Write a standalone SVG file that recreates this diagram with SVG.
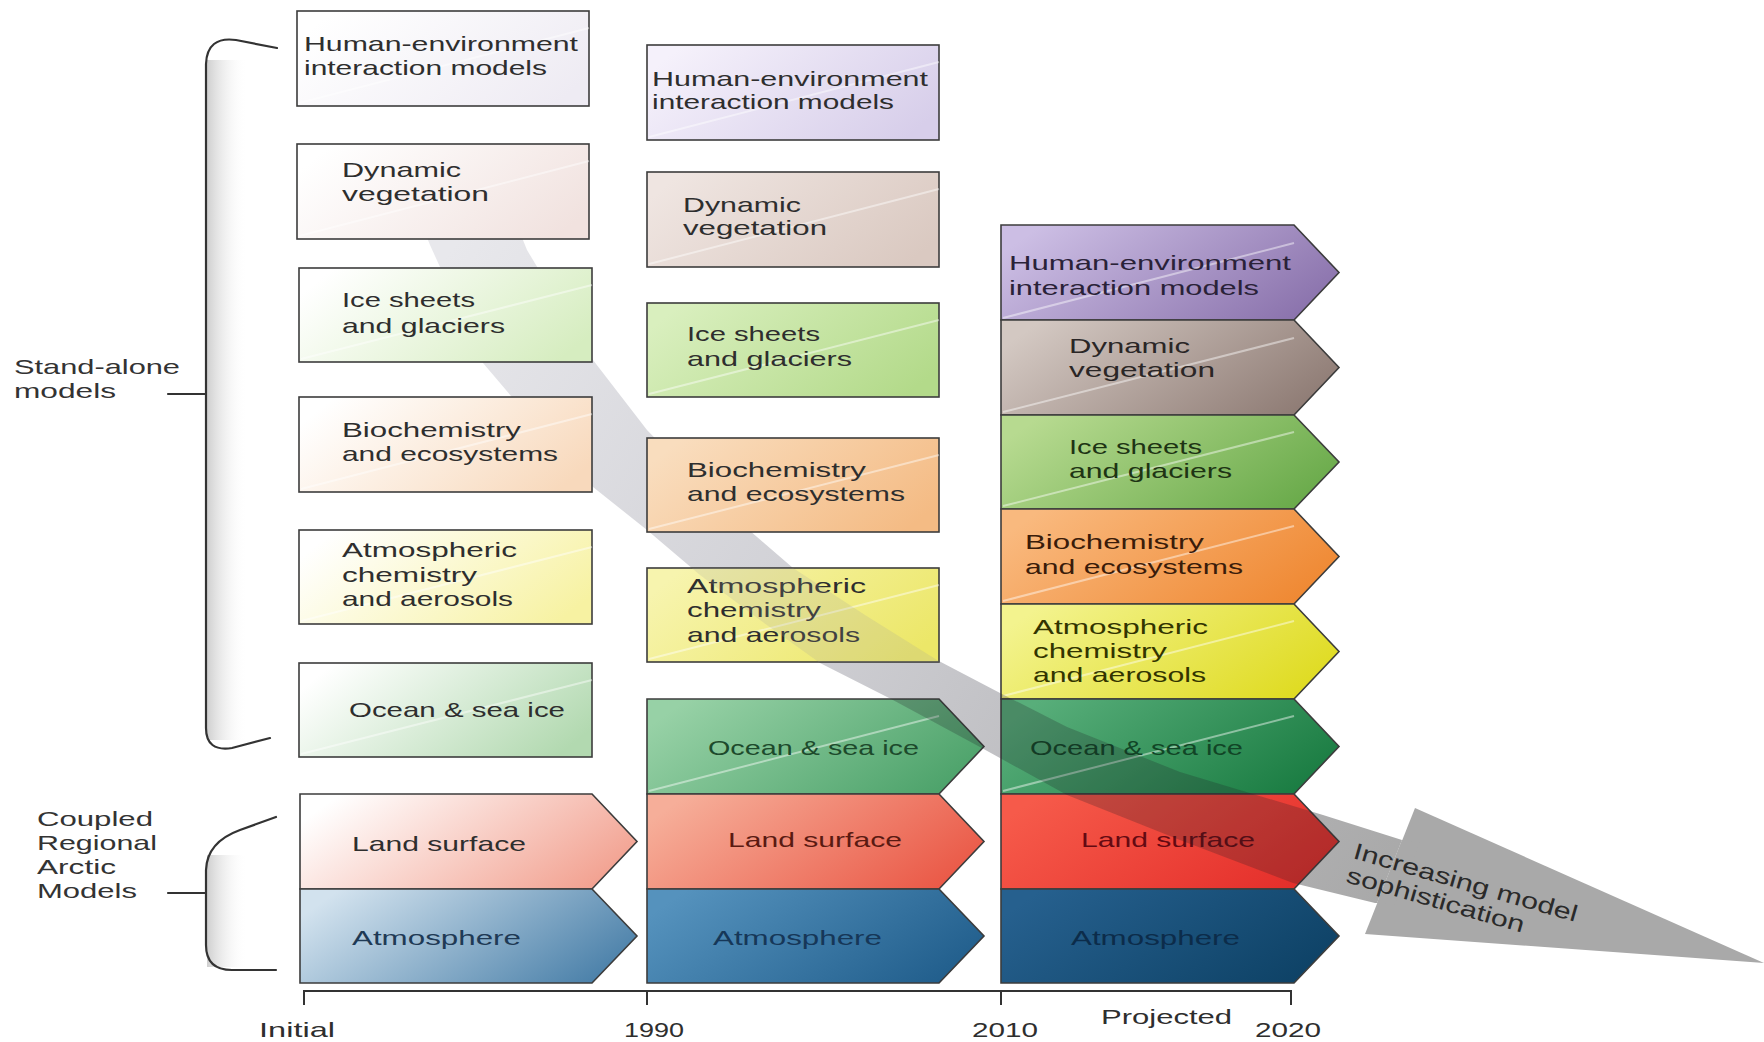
<svg xmlns="http://www.w3.org/2000/svg" width="1764" height="1042" viewBox="0 0 1764 1042">
<style>
text{font-family:"Liberation Sans","Arial",sans-serif;font-size:21px;fill:#2e2e2e}
.bx{stroke:#3c3c3c;stroke-width:1.6}
.gl{stroke:#fff;stroke-width:2;opacity:.45;fill:none}
.br{fill:none;stroke:#333;stroke-width:2.2;stroke-linecap:round}
.ax{fill:none;stroke:#333;stroke-width:2}
.lbl{font-size:21px;fill:#333}
</style>
<defs>
<linearGradient id="band" gradientUnits="userSpaceOnUse" x1="450" y1="250" x2="1400" y2="870"><stop offset="0" stop-color="#e8e8ec"/><stop offset=".45" stop-color="#cfcfd4"/><stop offset=".85" stop-color="#b2b2b4"/><stop offset="1" stop-color="#a9a9a9"/></linearGradient>
<linearGradient id="shade" x1="0" y1="0" x2="1" y2="0"><stop offset="0" stop-color="#cfcfcf"/><stop offset="1" stop-color="#fff" stop-opacity="0"/></linearGradient>
<linearGradient id="a1" x1="0" y1=".3" x2="1" y2=".7"><stop offset="0" stop-color="#fff"/><stop offset="1" stop-color="#eeebf3"/></linearGradient>
<linearGradient id="a2" x1="0" y1=".3" x2="1" y2=".7"><stop offset="0" stop-color="#fff"/><stop offset="1" stop-color="#f1e2df"/></linearGradient>
<linearGradient id="a3" x1="0" y1=".3" x2="1" y2=".7"><stop offset="0" stop-color="#fff"/><stop offset="1" stop-color="#d6edc0"/></linearGradient>
<linearGradient id="a4" x1="0" y1=".3" x2="1" y2=".7"><stop offset="0" stop-color="#fff"/><stop offset="1" stop-color="#f8d9bc"/></linearGradient>
<linearGradient id="a5" x1="0" y1=".3" x2="1" y2=".7"><stop offset="0" stop-color="#fff"/><stop offset="1" stop-color="#f7f2a2"/></linearGradient>
<linearGradient id="a6" x1="0" y1=".3" x2="1" y2=".7"><stop offset="0" stop-color="#fff"/><stop offset="1" stop-color="#b2d9b0"/></linearGradient>
<linearGradient id="a7" x1="0" y1=".3" x2="1" y2=".7"><stop offset="0" stop-color="#fff"/><stop offset="1" stop-color="#f2a08f"/></linearGradient>
<linearGradient id="a8" x1="0" y1=".3" x2="1" y2=".7"><stop offset="0" stop-color="#d2e2ee"/><stop offset="1" stop-color="#4a80a9"/></linearGradient>
<linearGradient id="b1" x1="0" y1=".3" x2="1" y2=".7"><stop offset="0" stop-color="#f5f1fb"/><stop offset="1" stop-color="#d7ceea"/></linearGradient>
<linearGradient id="b2" x1="0" y1=".3" x2="1" y2=".7"><stop offset="0" stop-color="#efe5e1"/><stop offset="1" stop-color="#dac9c1"/></linearGradient>
<linearGradient id="b3" x1="0" y1=".3" x2="1" y2=".7"><stop offset="0" stop-color="#d9efbe"/><stop offset="1" stop-color="#b3da8a"/></linearGradient>
<linearGradient id="b4" x1="0" y1=".3" x2="1" y2=".7"><stop offset="0" stop-color="#f9ddbe"/><stop offset="1" stop-color="#f4bb84"/></linearGradient>
<linearGradient id="b5" x1="0" y1=".3" x2="1" y2=".7"><stop offset="0" stop-color="#f7f4ae"/><stop offset="1" stop-color="#ece768"/></linearGradient>
<linearGradient id="b6" x1="0" y1=".3" x2="1" y2=".7"><stop offset="0" stop-color="#97d1a6"/><stop offset="1" stop-color="#4ca26a"/></linearGradient>
<linearGradient id="b7" x1="0" y1=".3" x2="1" y2=".7"><stop offset="0" stop-color="#f6ae99"/><stop offset="1" stop-color="#ea5846"/></linearGradient>
<linearGradient id="b8" x1="0" y1=".3" x2="1" y2=".7"><stop offset="0" stop-color="#5592bd"/><stop offset="1" stop-color="#215e8c"/></linearGradient>
<linearGradient id="c1" x1="0" y1=".3" x2="1" y2=".7"><stop offset="0" stop-color="#ccbee4"/><stop offset="1" stop-color="#8a72ac"/></linearGradient>
<linearGradient id="c2" x1="0" y1=".3" x2="1" y2=".7"><stop offset="0" stop-color="#d3c8c2"/><stop offset="1" stop-color="#8e7b74"/></linearGradient>
<linearGradient id="c3" x1="0" y1=".3" x2="1" y2=".7"><stop offset="0" stop-color="#b7da90"/><stop offset="1" stop-color="#69aa4a"/></linearGradient>
<linearGradient id="c4" x1="0" y1=".3" x2="1" y2=".7"><stop offset="0" stop-color="#f9b97e"/><stop offset="1" stop-color="#ef8832"/></linearGradient>
<linearGradient id="c5" x1="0" y1=".3" x2="1" y2=".7"><stop offset="0" stop-color="#f3f38e"/><stop offset="1" stop-color="#dfdb20"/></linearGradient>
<linearGradient id="c6" x1="0" y1=".3" x2="1" y2=".7"><stop offset="0" stop-color="#58ae7a"/><stop offset="1" stop-color="#1a7c42"/></linearGradient>
<linearGradient id="c7" x1="0" y1=".3" x2="1" y2=".7"><stop offset="0" stop-color="#f65a4a"/><stop offset="1" stop-color="#e42e2a"/></linearGradient>
<linearGradient id="c8" x1="0" y1=".3" x2="1" y2=".7"><stop offset="0" stop-color="#26608e"/><stop offset="1" stop-color="#0e4266"/></linearGradient>
<path id="bandShape" d="M505,195 L527,250 L560,305 L593,360 L647,430 L720,505 L793,568 L865,615 L937,660 L1000,693 L1067,727 L1180,772 L1323,815 L1402,840 L1377,903 L1375,903 L1293,883 L1180,840 L1067,795 L980,747 L893,700 L820,663 L760,620 L700,575 L647,530 L593,487 L540,430 L483,363 L455,300 L430,245 L410,195 Z"/>
<clipPath id="overClip">
<polygon points="647,699 939,699 984,746.5 939,794 647,794"/>
<polygon points="1001,604 1294,604 1339,651.5 1294,699 1001,699"/>
<polygon points="1001,699 1294,699 1339,746.5 1294,794 1001,794"/>
<polygon points="1001,794 1294,794 1339,841.5 1294,889 1001,889"/>
<polygon points="1001,889 1294,889 1339,936 1294,983 1001,983"/>
</clipPath>
<clipPath id="faintClip"><rect x="647" y="568" width="292" height="94"/></clipPath>
</defs>
<rect width="1764" height="1042" fill="#fff"/>

<g id="brackets">
<rect x="207" y="60" width="40" height="680" fill="url(#shade)"/>
<rect x="207" y="855" width="40" height="112" fill="url(#shade)"/>
<path class="br" d="M277,48 L236,40 Q207,36 206,64 L206,728 Q206,752 232,748 L270,738"/>
<path class="br" d="M168,394 L206,394"/>
<path class="br" d="M276,817 L240,830 Q207,842 206,870 L206,945 Q206,970 232,970 L276,970"/>
<path class="br" d="M168,893 L206,893"/>
<text class="lbl" x="14" y="374" textLength="166" lengthAdjust="spacingAndGlyphs">Stand-alone</text>
<text class="lbl" x="14" y="398" textLength="102" lengthAdjust="spacingAndGlyphs">models</text>
<text class="lbl" x="37" y="826" textLength="116" lengthAdjust="spacingAndGlyphs">Coupled</text>
<text class="lbl" x="37" y="850" textLength="120" lengthAdjust="spacingAndGlyphs">Regional</text>
<text class="lbl" x="37" y="874" textLength="79" lengthAdjust="spacingAndGlyphs">Arctic</text>
<text class="lbl" x="37" y="898" textLength="100" lengthAdjust="spacingAndGlyphs">Models</text>
</g>

<g id="connectors">
<use href="#bandShape" fill="url(#band)"/>
</g>

<g id="initial-human"><rect class="bx" x="297" y="11" width="292" height="95" fill="url(#a1)"/><line class="gl" x1="299" y1="103" x2="589" y2="28"/><text x="304" y="51" textLength="274" lengthAdjust="spacingAndGlyphs">Human-environment</text><text x="304" y="75" textLength="243" lengthAdjust="spacingAndGlyphs">interaction models</text></g>
<g id="initial-vegetation"><rect class="bx" x="297" y="144" width="292" height="95" fill="url(#a2)"/><line class="gl" x1="299" y1="236" x2="589" y2="161"/><text x="342" y="177" textLength="119" lengthAdjust="spacingAndGlyphs">Dynamic</text><text x="342" y="201" textLength="147" lengthAdjust="spacingAndGlyphs">vegetation</text></g>
<g id="initial-ice"><rect class="bx" x="299" y="268" width="293" height="94" fill="url(#a3)"/><line class="gl" x1="301" y1="359" x2="592" y2="285"/><text x="342" y="307" textLength="133" lengthAdjust="spacingAndGlyphs">Ice sheets</text><text x="342" y="333" textLength="163" lengthAdjust="spacingAndGlyphs">and glaciers</text></g>
<g id="initial-biochem"><rect class="bx" x="299" y="397" width="293" height="95" fill="url(#a4)"/><line class="gl" x1="301" y1="489" x2="592" y2="414"/><text x="342" y="437" textLength="179" lengthAdjust="spacingAndGlyphs">Biochemistry</text><text x="342" y="461" textLength="216" lengthAdjust="spacingAndGlyphs">and ecosystems</text></g>
<g id="initial-atmchem"><rect class="bx" x="299" y="530" width="293" height="94" fill="url(#a5)"/><line class="gl" x1="301" y1="621" x2="592" y2="547"/><text x="342" y="557" textLength="175" lengthAdjust="spacingAndGlyphs">Atmospheric</text><text x="342" y="582" textLength="135" lengthAdjust="spacingAndGlyphs">chemistry</text><text x="342" y="606" textLength="171" lengthAdjust="spacingAndGlyphs">and aerosols</text></g>
<g id="initial-ocean"><rect class="bx" x="299" y="663" width="293" height="94" fill="url(#a6)"/><line class="gl" x1="301" y1="754" x2="592" y2="680"/><text x="349" y="717" textLength="216" lengthAdjust="spacingAndGlyphs">Ocean &amp; sea ice</text></g>
<g id="initial-land"><polygon class="bx" points="300,794 592,794 637,841.5 592,889 300,889" fill="url(#a7)"/><text x="352" y="851" textLength="174" lengthAdjust="spacingAndGlyphs">Land surface</text></g>
<g id="initial-atmosphere"><polygon class="bx" points="300,889 592,889 637,936 592,983 300,983" fill="url(#a8)"/><text x="352" y="945" textLength="169" lengthAdjust="spacingAndGlyphs" style="fill:#1f3a55">Atmosphere</text></g>

<g id="y1990-human"><rect class="bx" x="647" y="45" width="292" height="95" fill="url(#b1)"/><line class="gl" x1="649" y1="137" x2="939" y2="62"/><text x="652" y="86" textLength="276" lengthAdjust="spacingAndGlyphs">Human-environment</text><text x="652" y="109" textLength="242" lengthAdjust="spacingAndGlyphs">interaction models</text></g>
<g id="y1990-vegetation"><rect class="bx" x="647" y="172" width="292" height="95" fill="url(#b2)"/><line class="gl" x1="649" y1="264" x2="939" y2="189"/><text x="683" y="212" textLength="118" lengthAdjust="spacingAndGlyphs">Dynamic</text><text x="683" y="235" textLength="144" lengthAdjust="spacingAndGlyphs">vegetation</text></g>
<g id="y1990-ice"><rect class="bx" x="647" y="303" width="292" height="94" fill="url(#b3)"/><line class="gl" x1="649" y1="394" x2="939" y2="320"/><text x="687" y="341" textLength="133" lengthAdjust="spacingAndGlyphs">Ice sheets</text><text x="687" y="366" textLength="165" lengthAdjust="spacingAndGlyphs">and glaciers</text></g>
<g id="y1990-biochem"><rect class="bx" x="647" y="438" width="292" height="94" fill="url(#b4)"/><line class="gl" x1="649" y1="529" x2="939" y2="455"/><text x="687" y="477" textLength="179" lengthAdjust="spacingAndGlyphs">Biochemistry</text><text x="687" y="501" textLength="218" lengthAdjust="spacingAndGlyphs">and ecosystems</text></g>
<g id="y1990-atmchem"><rect class="bx" x="647" y="568" width="292" height="94" fill="url(#b5)"/><line class="gl" x1="649" y1="659" x2="939" y2="585"/><text x="687" y="593" textLength="179" lengthAdjust="spacingAndGlyphs">Atmospheric</text><text x="687" y="617" textLength="134" lengthAdjust="spacingAndGlyphs">chemistry</text><text x="687" y="642" textLength="173" lengthAdjust="spacingAndGlyphs">and aerosols</text></g>
<g id="y1990-ocean"><polygon class="bx" points="647,699 939,699 984,746.5 939,794 647,794" fill="url(#b6)"/><line class="gl" x1="649" y1="791" x2="939" y2="716"/><text x="708" y="755" textLength="211" lengthAdjust="spacingAndGlyphs" style="fill:#1d4a2c">Ocean &amp; sea ice</text></g>
<g id="y1990-land"><polygon class="bx" points="647,794 939,794 984,841.5 939,889 647,889" fill="url(#b7)"/><text x="728" y="847" textLength="174" lengthAdjust="spacingAndGlyphs" style="fill:#5a1a12">Land surface</text></g>
<g id="y1990-atmosphere"><polygon class="bx" points="647,889 939,889 984,936 939,983 647,983" fill="url(#b8)"/><text x="713" y="945" textLength="169" lengthAdjust="spacingAndGlyphs" style="fill:#163758">Atmosphere</text></g>

<g id="y2010-human"><polygon class="bx" points="1001,225 1294,225 1339,272.5 1294,320 1001,320" fill="url(#c1)"/><line class="gl" x1="1003" y1="318" x2="1294" y2="243"/><text x="1009" y="270" textLength="282" lengthAdjust="spacingAndGlyphs" style="fill:#2a2238">Human-environment</text><text x="1009" y="295" textLength="250" lengthAdjust="spacingAndGlyphs" style="fill:#2a2238">interaction models</text></g>
<g id="y2010-vegetation"><polygon class="bx" points="1001,320 1294,320 1339,367.5 1294,415 1001,415" fill="url(#c2)"/><line class="gl" x1="1003" y1="412" x2="1294" y2="338"/><text x="1069" y="353" textLength="121" lengthAdjust="spacingAndGlyphs" style="fill:#2a2626">Dynamic</text><text x="1069" y="377" textLength="146" lengthAdjust="spacingAndGlyphs" style="fill:#2a2626">vegetation</text></g>
<g id="y2010-ice"><polygon class="bx" points="1001,415 1294,415 1339,462 1294,509 1001,509" fill="url(#c3)"/><line class="gl" x1="1003" y1="506" x2="1294" y2="432"/><text x="1069" y="454" textLength="133" lengthAdjust="spacingAndGlyphs" style="fill:#1e3414">Ice sheets</text><text x="1069" y="478" textLength="163" lengthAdjust="spacingAndGlyphs" style="fill:#1e3414">and glaciers</text></g>
<g id="y2010-biochem"><polygon class="bx" points="1001,509 1294,509 1339,556.5 1294,604 1001,604" fill="url(#c4)"/><line class="gl" x1="1003" y1="601" x2="1294" y2="526"/><text x="1025" y="549" textLength="179" lengthAdjust="spacingAndGlyphs" style="fill:#3a1c0a">Biochemistry</text><text x="1025" y="574" textLength="218" lengthAdjust="spacingAndGlyphs" style="fill:#3a1c0a">and ecosystems</text></g>
<g id="y2010-atmchem"><polygon class="bx" points="1001,604 1294,604 1339,651.5 1294,699 1001,699" fill="url(#c5)"/><line class="gl" x1="1003" y1="696" x2="1294" y2="621"/><text x="1033" y="634" textLength="175" lengthAdjust="spacingAndGlyphs" style="fill:#323400">Atmospheric</text><text x="1033" y="658" textLength="134" lengthAdjust="spacingAndGlyphs" style="fill:#323400">chemistry</text><text x="1033" y="682" textLength="173" lengthAdjust="spacingAndGlyphs" style="fill:#323400">and aerosols</text></g>
<g id="y2010-ocean"><polygon class="bx" points="1001,699 1294,699 1339,746.5 1294,794 1001,794" fill="url(#c6)"/><line class="gl" x1="1003" y1="791" x2="1294" y2="716"/><text x="1030" y="755" textLength="213" lengthAdjust="spacingAndGlyphs" style="fill:#114526">Ocean &amp; sea ice</text></g>
<g id="y2010-land"><polygon class="bx" points="1001,794 1294,794 1339,841.5 1294,889 1001,889" fill="url(#c7)"/><text x="1081" y="847" textLength="174" lengthAdjust="spacingAndGlyphs" style="fill:#640a12">Land surface</text></g>
<g id="y2010-atmosphere"><polygon class="bx" points="1001,889 1294,889 1339,936 1294,983 1001,983" fill="url(#c8)"/><text x="1071" y="945" textLength="169" lengthAdjust="spacingAndGlyphs" style="fill:#0c2c4a">Atmosphere</text></g>

<g id="sophistication-arrow">
<use href="#bandShape" fill="#1e1e24" opacity=".24" clip-path="url(#overClip)"/>
<use href="#bandShape" fill="#9a9aa0" opacity=".18" clip-path="url(#faintClip)"/>
<polygon points="1415,808 1764,963 1365,934" fill="#a9a9a9"/>
<polygon points="1402,840 1377,903 1395,905 1420,842" fill="#a9a9a9"/>
<g transform="rotate(16 1352 858)">
<text x="1352" y="858" textLength="232" lengthAdjust="spacingAndGlyphs" style="font-size:23px;fill:#2a2a2a">Increasing model</text>
<text x="1352" y="883" textLength="184" lengthAdjust="spacingAndGlyphs" style="font-size:23px;fill:#2a2a2a">sophistication</text>
</g>
</g>

<g id="axis">
<path class="ax" d="M304,991 L1292,991 M304,990 V1005 M647,990 V1005 M1001,990 V1005 M1291,990 V1005"/>
<text x="259" y="1037" textLength="76" lengthAdjust="spacingAndGlyphs">Initial</text>
<text x="624" y="1037" textLength="60" lengthAdjust="spacingAndGlyphs">1990</text>
<text x="972" y="1037" textLength="66" lengthAdjust="spacingAndGlyphs">2010</text>
<text x="1101" y="1024" textLength="131" lengthAdjust="spacingAndGlyphs">Projected</text>
<text x="1255" y="1037" textLength="66" lengthAdjust="spacingAndGlyphs">2020</text>
</g>
</svg>
